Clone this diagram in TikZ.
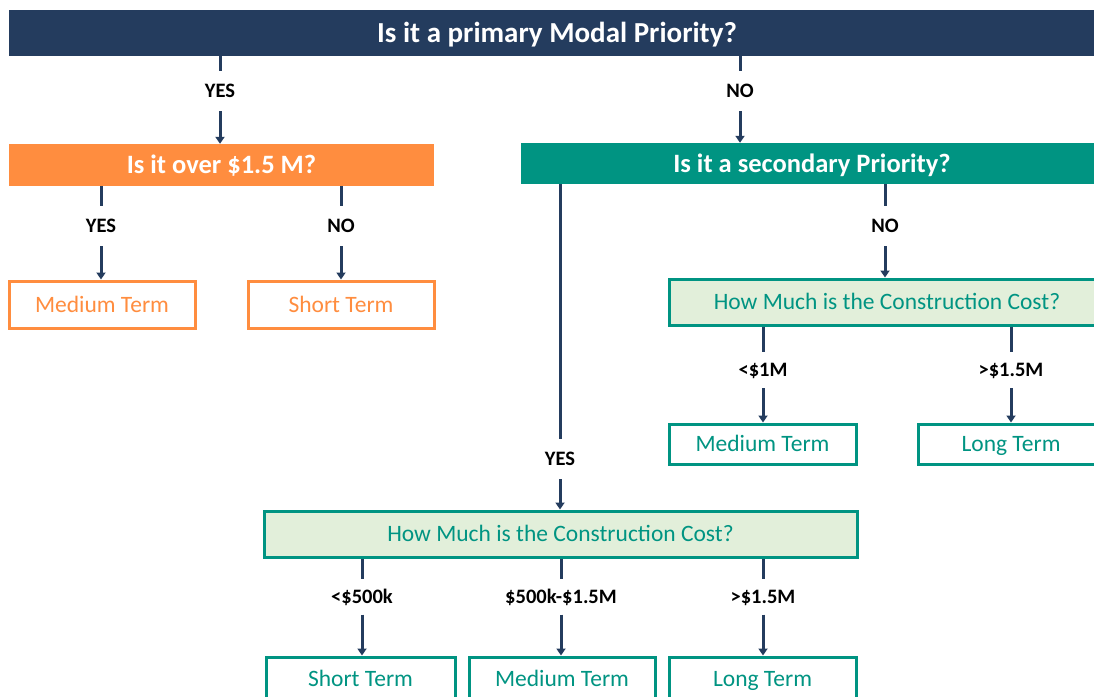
\documentclass[tikz,border=0pt]{standalone}
\usepackage{fontspec}
\setmainfont{Carlito}
\usetikzlibrary{arrows.meta}
\definecolor{navy}{HTML}{243C5E}
\definecolor{orng}{HTML}{FF8D3F}
\definecolor{teal}{HTML}{009482}
\definecolor{mint}{HTML}{E2EFDA}
\begin{document}
\begin{tikzpicture}[x=1pt,y=-1pt,
  bar/.style={rectangle,inner sep=0pt,text=white,text height=17pt,text depth=0pt,font=\fontsize{26.5}{30}\selectfont\bfseries},
  obox/.style={rectangle,draw=orng,line width=3pt,fill=white,text=orng,inner sep=0pt,text height=15pt,text depth=0pt,font=\fontsize{23.5}{27}\selectfont},
  gbox/.style={rectangle,draw=teal,line width=3pt,fill=mint,text=teal,inner sep=0pt,text height=15pt,text depth=0pt,font=\fontsize{23.5}{27}\selectfont},
  tbox/.style={rectangle,draw=teal,line width=3pt,fill=white,text=teal,inner sep=0pt,text height=15pt,text depth=0pt,font=\fontsize{23.5}{27}\selectfont},
  lbl/.style={inner sep=0pt,minimum height=40pt,text height=13pt,text depth=0pt,text=black,font=\fontsize{20.5}{24}\selectfont\bfseries},
  link/.style={draw=navy,line width=3pt},
  arr/.style={draw=navy,line width=3pt,-{Triangle[width=9pt,length=7pt]}}]
\useasboundingbox (0,0) rectangle (1094,696);
\clip (0,0) rectangle (1094,696);
\fill[white] (0,0) rectangle (1094,696);
\node[bar,fill=navy,minimum width=1096pt,minimum height=46pt,text height=18.5pt,font=\fontsize{29}{33}\selectfont\bfseries] (q1) at (557,33) {Is it a primary Modal Priority?};
\node[bar,fill=orng,minimum width=425pt,minimum height=42pt] (q2) at (221.5,165) {Is it over \$1.5 M?};
\node[bar,fill=teal,minimum width=582pt,minimum height=41pt] (q3) at (812,163.5) {Is it a secondary Priority?};
\node[obox,minimum width=186pt,minimum height=47pt] (t1) at (102,304.5) {Medium Term};
\node[obox,minimum width=186pt,minimum height=47pt] (t2) at (341,304.5) {Short Term};
\node[gbox,minimum width=436pt,minimum height=46pt] (q4) at (887,302) {How Much is the Construction Cost?};
\node[tbox,minimum width=187pt,minimum height=40pt] (t3) at (762.5,444) {Medium Term};
\node[tbox,minimum width=186pt,minimum height=40pt] (t4) at (1011,444) {Long Term};
\node[gbox,minimum width=593pt,minimum height=46pt] (q5) at (560.5,534) {How Much is the Construction Cost?};
\node[tbox,minimum width=189pt,minimum height=44pt] (t5) at (360.5,679) {Short Term};
\node[tbox,minimum width=186pt,minimum height=44pt] (t6) at (562,679) {Medium Term};
\node[tbox,minimum width=187pt,minimum height=44pt] (t7) at (762.5,679) {Long Term};
\node[lbl] (yes1) at (220,91) {YES};
\node[lbl] (no1) at (740,91) {NO};
\node[lbl] (yes2) at (101,226) {YES};
\node[lbl] (no2) at (341,226) {NO};
\node[lbl] (no3) at (885,226) {NO};
\node[lbl,minimum height=36pt] (lt1) at (763,370) {<\$1M};
\node[lbl,minimum height=36pt] (gt1) at (1011,370) {>\$1.5M};
\node[lbl] (yes3) at (560,459) {YES};
\node[lbl,minimum height=35pt] (lt2) at (362,597) {<\$500k};
\node[lbl,minimum height=35pt] (mid2) at (561,597) {\$500k-\$1.5M};
\node[lbl,minimum height=35pt] (gt2) at (763,597) {>\$1.5M};
\draw[link] (q1.south -| yes1) -- (yes1.north);
\draw[arr] (yes1.south) -- (yes1.south |- q2.north);
\draw[link] (q1.south -| no1) -- (no1.north);
\draw[arr] (no1.south) -- (no1.south |- q3.north);
\draw[link] (q2.south -| yes2) -- (yes2.north);
\draw[arr] (yes2.south) -- (yes2.south |- t1.north);
\draw[link] (q2.south -| no2) -- (no2.north);
\draw[arr] (no2.south) -- (no2.south |- t2.north);
\draw[link] (q3.south -| no3) -- (no3.north);
\draw[arr] (no3.south) -- (no3.south |- q4.north);
\draw[link] (q4.south -| lt1) -- (lt1.north);
\draw[arr] (lt1.south) -- (lt1.south |- t3.north);
\draw[link] (q4.south -| gt1) -- (gt1.north);
\draw[arr] (gt1.south) -- (gt1.south |- t4.north);
\draw[link] (q3.south -| yes3) -- (yes3.north);
\draw[arr] (yes3.south) -- (yes3.south |- q5.north);
\draw[link] (q5.south -| lt2) -- (lt2.north);
\draw[arr] (lt2.south) -- (lt2.south |- t5.north);
\draw[link] (q5.south -| mid2) -- (mid2.north);
\draw[arr] (mid2.south) -- (mid2.south |- t6.north);
\draw[link] (q5.south -| gt2) -- (gt2.north);
\draw[arr] (gt2.south) -- (gt2.south |- t7.north);
\end{tikzpicture}
\end{document}
